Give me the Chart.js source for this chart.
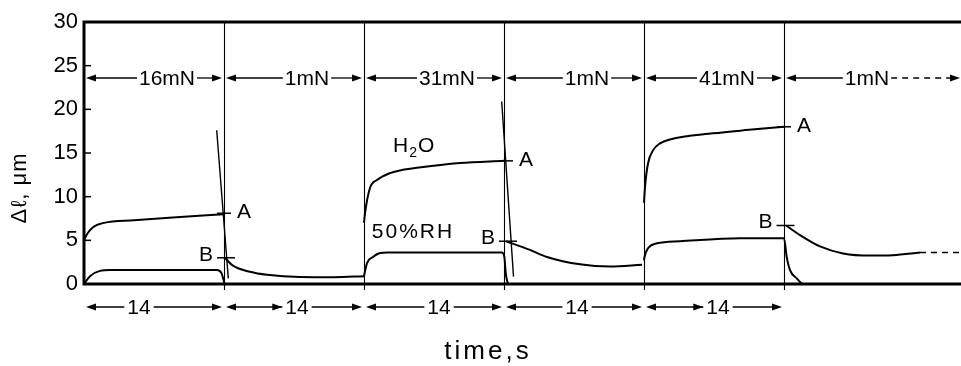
<!DOCTYPE html>
<html><head><meta charset="utf-8">
<script src="https://cdn.jsdelivr.net/npm/chart.js@4/dist/chart.umd.min.js"></script>
<style>html,body{margin:0;padding:0;background:#fff;}canvas{display:block;}</style>
</head><body>
<canvas id="c" width="961" height="366"></canvas>
<script>
// ---------- data ----------
const segmentEdges = [0, 14, 28, 42, 56, 70];          // s, load changes
const forceLabels = ['16mN', '1mN', '31mN', '1mN', '41mN', '1mN'];
const durationLabels = ['14', '14', '14', '14', '14'];
const yTickValues = [0, 5, 10, 15, 20, 25, 30];

// H2O trace (null = pen lifted between load steps)
const h2oTime = [0, 0.3, 0.9, 2.0, 5, 10, 14, 14,
  14.0, 14.9, 16.6, 18.3, 21.6, 25, 28, 28,
  28, 28.1, 28.6, 29.3, 30.6, 31.6, 33.3, 37.6, 42, 42,
  42.2, 44.6, 46.3, 49.6, 52.6, 55.8, 56,
  56, 56.1, 56.4, 56.9, 57.6, 58.6, 62.9, 66.5, 70, 70,
  70.2, 71.6, 73.6, 75.9, 78.6, 80.9, 83.6];
const h2oValue = [5.0, 5.7, 6.5, 7.0, 7.3, 7.7, 8.0, null,
  3.1, 2.1, 1.4, 1.05, 0.8, 0.78, 0.9, null,
  7.0, 8.1, 11.0, 11.9, 12.7, 13.0, 13.3, 13.85, 14.1, null,
  4.9, 3.9, 3.1, 2.25, 2.0, 2.2, null,
  9.3, 11.1, 13.8, 15.3, 16.1, 16.55, 17.25, 17.65, 18.0, null,
  6.7, 5.6, 4.3, 3.5, 3.25, 3.3, 3.6];
const h2oTailTime = [83.6, 87.7];
const h2oTailValue = [3.6, 3.6];

// 50 % RH trace
const rhTime = [0, 0.6, 1.6, 2.6, 13.3, 13.75, 13.95, 14.1, 27.9, 28,
  28, 28.3, 28.9, 29.6, 30.3, 41.8, 42.05, 42.15, 42.3, 42.5, 55.9, 56,
  56, 56.05, 56.4, 57.3, 59.6, 65.6, 70, 70.27, 70.6, 71.27, 71.93, 87.7];
const rhValue = [0, 0.9, 1.5, 1.6, 1.6, 1.25, 0.5, 0, 0, null,
  0.9, 2.4, 3.1, 3.55, 3.6, 3.6, 3.0, 1.5, 0.4, 0, 0, null,
  2.7, 3.1, 4.1, 4.66, 4.9, 5.25, 5.25, 3.1, 1.6, 0.65, 0, 0];

// fast unloading strokes
const dropTime = [13.27, 14.43, 14.43, 41.77, 42.95];
const dropValue = [17.6, 0.65, null, 20.9, 0.84];

// marked points A and B
const aTime = [14, 42.2, 70];
const aValue = [8.1, 14.1, 18.0];
const bTime = [14.2, 42.4, 70.15];
const bValue = [3.0, 4.9, 6.7];

// ---------- style ----------
const FONT = '"Liberation Sans", Arial, Helvetica, sans-serif';
const forceLabelOffset = 8.3;                 // s from segment start
const durationLabelOffsets = [5.5, 7.3, 7.5, 7.3, 7.4];
const h2oLabelPos = [33.1, 15.8];
const rhLabelPos = [32.9, 5.95];

const pts = (ts, vs) => ts.map((t, i) => ({x: t, y: vs[i]}));

function arrowHead(ctx, x, y, dir) {
  ctx.beginPath();
  ctx.moveTo(x, y);
  ctx.lineTo(x - dir * 10, y - 3.5);
  ctx.lineTo(x - dir * 10, y + 3.5);
  ctx.closePath();
  ctx.fill();
}
function hLine(ctx, x1, x2, y, dash) {
  ctx.save();
  if (dash) ctx.setLineDash(dash);
  ctx.beginPath(); ctx.moveTo(x1, y); ctx.lineTo(x2, y); ctx.stroke();
  ctx.restore();
}

const annot = {
  id: 'annot',
  beforeDatasetsDraw(chart) {
    const {ctx, chartArea: ca, scales: {x, y}} = chart;
    ctx.save();
    ctx.strokeStyle = '#000';
    ctx.lineWidth = 1.1;
    segmentEdges.slice(1).forEach(t => {
      const px = Math.round(x.getPixelForValue(t)) + 0.5;
      ctx.beginPath(); ctx.moveTo(px, ca.top); ctx.lineTo(px, ca.bottom + 6); ctx.stroke();
    });
    ctx.restore();
  },
  afterDatasetsDraw(chart) {
    const {ctx, chartArea: ca, scales: {x, y}} = chart;
    ctx.save();
    ctx.strokeStyle = '#000'; ctx.fillStyle = '#000';
    // frame
    ctx.lineWidth = 3;
    ctx.beginPath();
    ctx.moveTo(ca.right, ca.top); ctx.lineTo(ca.left, ca.top);
    ctx.lineTo(ca.left, ca.bottom); ctx.lineTo(ca.right, ca.bottom);
    ctx.stroke();
    // inward y ticks
    ctx.lineWidth = 1.5;
    yTickValues.forEach(v => {
      if (v === 0 || v === 30) return;
      const py = y.getPixelForValue(v);
      hLine(ctx, ca.left, ca.left + 7, py);
    });
    // force row
    ctx.lineWidth = 1.3;
    ctx.font = '21px ' + FONT;
    ctx.textBaseline = 'middle'; ctx.textAlign = 'center';
    const fy = 78;
    forceLabels.forEach((lab, i) => {
      const xs = x.getPixelForValue(segmentEdges[i]) + 2;
      const xe = i < segmentEdges.length - 1 ? x.getPixelForValue(segmentEdges[i + 1]) - 2 : ca.right - 1;
      const cx = x.getPixelForValue(segmentEdges[i] + forceLabelOffset);
      const w = ctx.measureText(lab).width;
      ctx.fillText(lab, cx, fy + 1);
      hLine(ctx, xs + 6, cx - w / 2 - 2, fy);
      arrowHead(ctx, xs, fy, -1);
      const last = i === segmentEdges.length - 1;
      hLine(ctx, cx + w / 2 + 2, xe - 6, fy, last ? [6, 5] : null);
      arrowHead(ctx, xe, fy, 1);
    });
    // duration row
    ctx.font = '21px ' + FONT;
    const dy = 307;
    durationLabels.forEach((lab, i) => {
      const xs = x.getPixelForValue(segmentEdges[i]) + 2;
      const xe = x.getPixelForValue(segmentEdges[i + 1]) - 2;
      const cx = x.getPixelForValue(segmentEdges[i] + durationLabelOffsets[i]);
      const w = ctx.measureText(lab).width;
      ctx.fillText(lab, cx, dy + 1);
      hLine(ctx, xs + 6, cx - w / 2 - 3, dy);
      arrowHead(ctx, xs, dy, -1);
      if (i === 1 || i === 4) arrowHead(ctx, cx - w / 2 - 3, dy, 1);
      hLine(ctx, cx + w / 2 + 3, xe - 6, dy);
      arrowHead(ctx, xe, dy, 1);
    });
    // A and B labels
    ctx.font = '21px ' + FONT;
    ctx.textAlign = 'left';
    aTime.forEach((t, i) => ctx.fillText('A', x.getPixelForValue(t) + 13, y.getPixelForValue(aValue[i]) - 1));
    ctx.textAlign = 'right';
    bTime.forEach((t, i) => ctx.fillText('B', x.getPixelForValue(t) - 13, y.getPixelForValue(bValue[i]) - 3));
    // H2O label
    ctx.textAlign = 'left';
    let hx = x.getPixelForValue(h2oLabelPos[0]) - 22, hy = y.getPixelForValue(h2oLabelPos[1]);
    ctx.font = '21px ' + FONT;
    ctx.fillText('H', hx, hy);
    hx += ctx.measureText('H').width + 1;
    ctx.font = '14px ' + FONT;
    ctx.fillText('2', hx, hy + 7);
    hx += ctx.measureText('2').width + 1;
    ctx.font = '21px ' + FONT;
    ctx.fillText('O', hx, hy);
    // 50%RH label
    ctx.textAlign = 'center';
    ctx.letterSpacing = '2px';
    ctx.fillText('50%RH', x.getPixelForValue(rhLabelPos[0]), y.getPixelForValue(rhLabelPos[1]));
    // axis titles
    ctx.font = '26px ' + FONT;
    ctx.letterSpacing = '3px';
    ctx.fillText('time,s', 488, 352);
    ctx.letterSpacing = '1px';
    ctx.translate(20, 188);
    ctx.rotate(-Math.PI / 2);
    ctx.font = '22px ' + FONT;
    ctx.fillText('Δℓ, μm', 0, 0);
    ctx.restore();
  }
};

const black = '#000';
new Chart(document.getElementById('c'), {
  type: 'line',
  data: {
    datasets: [
      {data: pts(h2oTime, h2oValue), borderColor: black, borderWidth: 2, pointRadius: 0, cubicInterpolationMode: 'monotone', spanGaps: false},
      {data: pts(h2oTailTime, h2oTailValue), borderColor: black, borderWidth: 1.6, borderDash: [6, 5], pointRadius: 0},
      {data: pts(rhTime, rhValue), borderColor: black, borderWidth: 2, pointRadius: 0, cubicInterpolationMode: 'monotone', spanGaps: false},
      {data: pts(dropTime, dropValue), borderColor: black, borderWidth: 1.4, pointRadius: 0, tension: 0, spanGaps: false},
      {data: pts(aTime, aValue), showLine: false, pointStyle: 'line', pointRadius: 7, pointBorderWidth: 1.5, borderColor: black, backgroundColor: black},
      {data: pts(bTime, bValue), showLine: false, pointStyle: 'line', pointRadius: 9, pointBorderWidth: 1.5, borderColor: black, backgroundColor: black}
    ]
  },
  options: {
    responsive: false,
    animation: false,
    devicePixelRatio: 1,
    layout: {autoPadding: false, padding: {top: 22, left: 0, right: 0, bottom: 0}},
    plugins: {legend: {display: false}, tooltip: {enabled: false}},
    scales: {
      x: {
        type: 'linear', min: 0, max: 87.7,
        ticks: {display: false},
        grid: {display: false, drawTicks: false},
        border: {display: false},
        afterFit(s) { s.height = 82; }
      },
      y: {
        min: 0, max: 30,
        afterBuildTicks(s) { s.ticks = yTickValues.map(v => ({value: v})); },
        ticks: {color: black, font: {family: FONT, size: 22}, padding: 6},
        grid: {display: false, drawTicks: false},
        border: {display: false},
        afterFit(s) { s.width = 84; }
      }
    }
  },
  plugins: [annot]
});
</script>
</body></html>
